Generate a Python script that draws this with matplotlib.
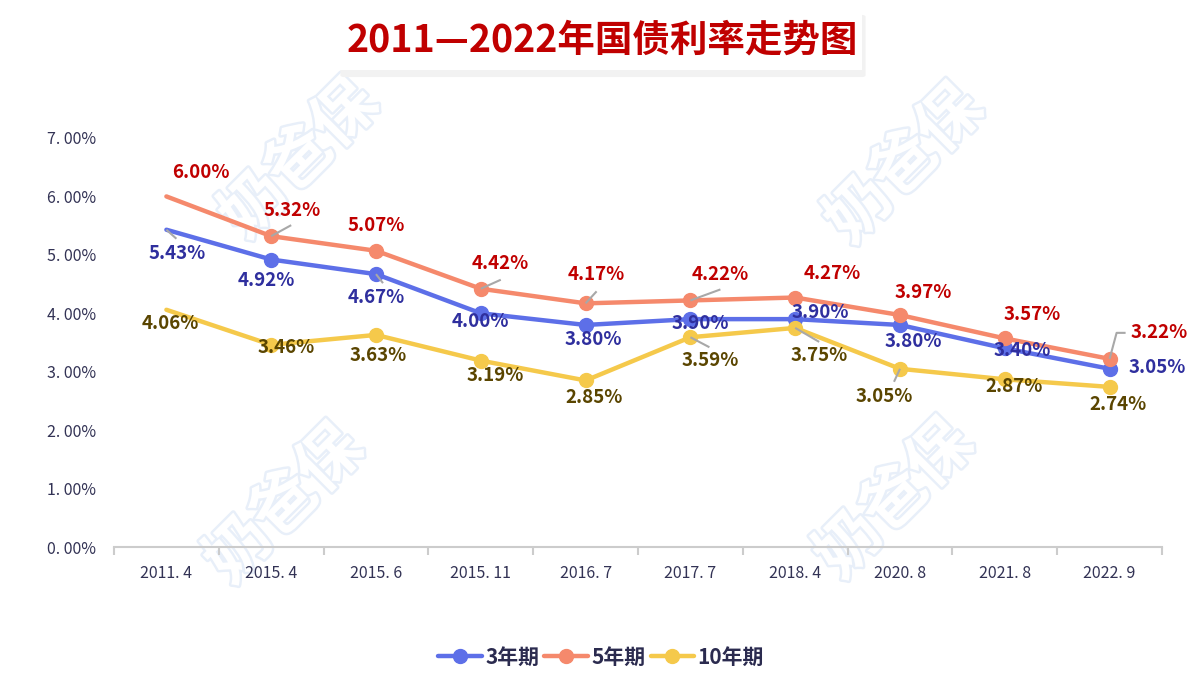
import numpy as np
import matplotlib
matplotlib.use("Agg")
import matplotlib.pyplot as plt
import matplotlib.patheffects as pe
from matplotlib.lines import Line2D
from matplotlib.legend_handler import HandlerLine2D
from matplotlib.patches import FancyBboxPatch
from matplotlib.ticker import FuncFormatter

plt.rcParams['font.family'] = ['Noto Sans CJK SC', 'DejaVu Sans']

dates = ["2011.4", "2015.4", "2015.6", "2015.11", "2016.7",
         "2017.7", "2018.4", "2020.8", "2021.8", "2022.9"]
rate_3y = [5.43, 4.92, 4.67, 4.00, 3.80, 3.90, 3.90, 3.80, 3.40, 3.05]
rate_5y = [6.00, 5.32, 5.07, 4.42, 4.17, 4.22, 4.27, 3.97, 3.57, 3.22]
rate_10y = [4.06, 3.46, 3.63, 3.19, 2.85, 3.59, 3.75, 3.05, 2.87, 2.74]
series_names = ["3年期", "5年期", "10年期"]
title = "2011—2022年国债利率走势图"

# label offsets in pixels (x right, y up) from each point
off_3y = [(11, -24), (-5, -21), (0, -23), (0, -8), (8, -15),
          (10, -4), (25, 7), (13, -17), (17, -2), (48, 1)]
off_5y = [(34, 24), (21, 26), (0, 25), (19, 25), (11, 29),
          (30, 26), (37, 24), (23, 23), (27, 24), (50, 26)]
off_10y = [(4, -14), (15, -3), (2, -21), (14, -15), (8, -17),
           (20, -23), (24, -28), (-16, -28), (9, -7), (8, -18)]

# leader lines: (series, index, path of pixel offsets from the point)
leaders = [
    (0, 0, [(0, 0), (10, -9)]),
    (1, 1, [(0, 0), (20, 11)]),
    (0, 2, [(0, 0), (7, -9)]),
    (1, 3, [(0, 0), (20, 9)]),
    (1, 4, [(0, 0), (11, 12)]),
    (1, 5, [(0, 0), (30, 11)]),
    (2, 5, [(0, 0), (19, -10)]),
    (2, 6, [(0, 0), (24, -14)]),
    (2, 7, [(0, 0), (-6, -13)]),
    (1, 9, [(0, 0), (7, 26), (16, 26)]),
]

line_colors = ["#5d6fe8", "#f5896c", "#f5c94b"]
label_colors = ["#2f2f9e", "#c00000", "#5a4500"]

fig = plt.figure(figsize=(12.04, 6.91), dpi=100)
ax = fig.add_axes([114 / 1204, 144 / 691, 1048 / 1204, 409 / 691])
x = np.arange(len(dates))
ax.set_xlim(-0.5, len(dates) - 0.5)
ax.set_ylim(0, 7)

# watermark
for wx, wy in [(300, 160), (905, 165), (285, 505), (895, 500)]:
    ax.text(wx / 1204, 1 - wy / 691, "奶爸保", transform=fig.transFigure,
            fontsize=46, fontweight="bold", color="white", rotation=45,
            ha="center", va="center", zorder=0, clip_on=False,
            path_effects=[pe.withStroke(linewidth=3.5, foreground="#e8eff9")])

all_rates = [rate_3y, rate_5y, rate_10y]
all_offs = [off_3y, off_5y, off_10y]
for k, (vals, offs) in enumerate(zip(all_rates, all_offs)):
    ax.plot(x, vals, color=line_colors[k], lw=3.2, marker="o", ms=10,
            markevery=list(range(1, len(vals))), zorder=3 + k * 0.1,
            solid_capstyle="round", solid_joinstyle="round",
            label=series_names[k])
    for i, v in enumerate(vals):
        ax.annotate(f"{v:.2f}%", xy=(i, v), xytext=offs[i],
                    textcoords="offset pixels", ha="center", va="center",
                    fontsize=13.5, fontweight="bold", color=label_colors[k],
                    zorder=6)

# gray leader lines (limits are fixed above, so pixel offsets map correctly)
tr = ax.transData
for s, i, path in leaders:
    base = tr.transform((i, all_rates[s][i]))
    pts = tr.inverted().transform([(base[0] + dx, base[1] + dy) for dx, dy in path])
    ax.plot(pts[:, 0], pts[:, 1], color="#a8a8a8", lw=1.5, zorder=5,
            solid_capstyle="butt")

ax.set_xticks(x)
ax.set_xticklabels([d.replace(".", ". ") for d in dates])
ax.set_xticks(np.arange(-0.5, len(dates)), minor=True)
ax.tick_params(axis="x", which="major", length=0, pad=13, labelsize=11.5,
               labelcolor="#333355")
ax.tick_params(axis="x", which="minor", length=6, width=1.5, color="#cccccc")
ax.set_yticks(np.arange(0, 8))
ax.yaxis.set_major_formatter(FuncFormatter(lambda v, p: f"{v:.0f}. 00%"))
ax.tick_params(axis="y", length=0, pad=13, labelsize=11.5, labelcolor="#333355")
for side in ["top", "right", "left"]:
    ax.spines[side].set_visible(False)
ax.spines["bottom"].set_color("#cccccc")
ax.spines["bottom"].set_linewidth(1.5)
ax.patch.set_alpha(0)

# title box with soft shadow
fig.patches.append(FancyBboxPatch((344 / 1204, 1 - 75 / 691), 518 / 1204, 58 / 691,
                                  boxstyle="round,pad=0.003", transform=fig.transFigure,
                                  facecolor="#f2f2f2", edgecolor="none", zorder=1))
fig.patches.append(FancyBboxPatch((340 / 1204, 1 - 70 / 691), 522 / 1204, 56 / 691,
                                  boxstyle="square,pad=0", transform=fig.transFigure,
                                  facecolor="white", edgecolor="none", zorder=2))
fig.text(602 / 1204, 1 - 40 / 691, title, ha="center", va="center",
         fontsize=27, fontweight="bold", color="#c00000", zorder=3)


class EndMarker(HandlerLine2D):
    def get_xdata(self, legend, xdescent, ydescent, width, height, fontsize):
        xdata = np.array([-xdescent, -xdescent + width])
        return xdata, np.array([-xdescent + width])


leg_handles = [Line2D([0], [0], color=c, lw=3.2, marker="o", ms=10,
                      solid_capstyle="round") for c in line_colors]
leg = fig.legend(leg_handles, series_names, loc="center",
                 bbox_to_anchor=(601 / 1204, 1 - 657 / 691), ncol=3,
                 frameon=False, handlelength=2.1, handletextpad=0.15,
                 columnspacing=0.25, prop={"size": 15, "weight": "bold"},
                 handler_map={Line2D: EndMarker()})
for t in leg.get_texts():
    t.set_color("#2b2b4f")

fig.savefig("out.png", dpi=100)
